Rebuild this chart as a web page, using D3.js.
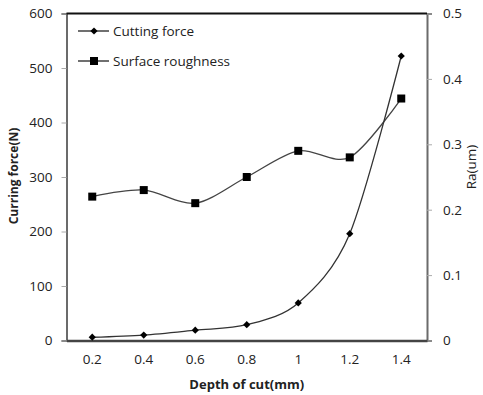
<!DOCTYPE html>
<html>
<head>
<meta charset="utf-8">
<script src="https://cdn.jsdelivr.net/npm/d3@7"></script>
<style>
  body { margin: 0; background: #fff; }
  text { font-family: "Open Sans", "DejaVu Sans", sans-serif; fill: #222; }
</style>
</head>
<body>
<div id="box"></div>
<script>
// data
var depths = ["0.2", "0.4", "0.6", "0.8", "1", "1.2", "1.4"];
var cuttingForce = [6, 10, 19, 29, 69, 196, 522];
var roughness = [0.22, 0.23, 0.21, 0.25, 0.29, 0.28, 0.37];
var forceTicks = [0, 100, 200, 300, 400, 500, 600];
var raTicks = [0, 0.1, 0.2, 0.3, 0.4, 0.5];

var width = 483, height = 395;
var plotLeft = 66.5, plotRight = 427, plotTop = 13.5, plotBottom = 340.5;

var svg = d3.select("#box")
    .append("svg")
    .attr("width", width)
    .attr("height", height);

var x = d3.scaleBand().domain(depths).range([plotLeft, plotRight]);
var yF = d3.scaleLinear().domain([0, 600]).range([plotBottom, plotTop]);
var yR = d3.scaleLinear().domain([0, 0.5]).range([plotBottom, plotTop]);

// left axis
var leftAxis = svg.append("g")
    .attr("transform", "translate(" + plotLeft + ",0)")
    .call(d3.axisLeft(yF).tickValues(forceTicks).tickSize(5).tickPadding(9));
leftAxis.select(".domain").attr("stroke", "#6b6b6b").attr("stroke-width", 2);
leftAxis.selectAll(".tick line").attr("stroke", "#aaa");
leftAxis.selectAll("text").attr("font-size", 13.5).attr("fill", "#222");

// right axis
var rightAxis = svg.append("g")
    .attr("transform", "translate(" + plotRight + ",0)")
    .call(d3.axisRight(yR).tickValues(raTicks).tickSize(5).tickPadding(11)
        .tickFormat(function(d) { return d === 0 ? "0" : d3.format(".1f")(d); }));
rightAxis.select(".domain").attr("stroke", "#6b6b6b").attr("stroke-width", 2);
rightAxis.selectAll(".tick line").attr("stroke", "#aaa");
rightAxis.selectAll("text").attr("font-size", 13.5).attr("fill", "#222");

// bottom axis
var bottomAxis = svg.append("g")
    .attr("transform", "translate(0," + plotBottom + ")")
    .call(d3.axisBottom(x).tickSize(0).tickPadding(14));
bottomAxis.select(".domain").attr("stroke", "#444").attr("stroke-width", 2.5);
bottomAxis.selectAll("text").attr("font-size", 13.5).attr("fill", "#222");

// top border
svg.append("line")
    .attr("x1", plotLeft).attr("x2", plotRight)
    .attr("y1", plotTop).attr("y2", plotTop)
    .attr("stroke", "#111").attr("stroke-width", 2);

var cx = function(d, i) { return x(depths[i]) + x.bandwidth() / 2; };

// smoothed lines
var lineF = d3.line()
    .x(function(d, i) { return cx(d, i); })
    .y(function(d) { return yF(d); })
    .curve(d3.curveCardinal.tension(0.1));
var lineR = d3.line()
    .x(function(d, i) { return cx(d, i); })
    .y(function(d) { return yR(d); })
    .curve(d3.curveCardinal.tension(0.1));

svg.append("path").datum(roughness)
    .attr("d", lineR)
    .attr("fill", "none").attr("stroke", "#444").attr("stroke-width", 1.3);
svg.append("path").datum(cuttingForce)
    .attr("d", lineF)
    .attr("fill", "none").attr("stroke", "#333").attr("stroke-width", 1.3);

// squat diamond marker (rotated square)
var diamond = d3.symbol().type(d3.symbolSquare).size(26);

svg.selectAll(".sq")
    .data(roughness)
    .enter()
    .append("rect")
    .attr("class", "sq")
    .attr("x", function(d, i) { return cx(d, i) - 4; })
    .attr("y", function(d) { return yR(d) - 4; })
    .attr("width", 8).attr("height", 8)
    .attr("fill", "#000");

svg.selectAll(".dm")
    .data(cuttingForce)
    .enter()
    .append("path")
    .attr("class", "dm")
    .attr("d", diamond)
    .attr("transform", function(d, i) { return "translate(" + cx(d, i) + "," + yF(d) + ") rotate(45)"; })
    .attr("fill", "#000");

// legend
var legend = [{ name: "Cutting force", y: 31, mark: "diamond" },
              { name: "Surface roughness", y: 61, mark: "square" }];
var lg = svg.selectAll(".lg")
    .data(legend)
    .enter()
    .append("g")
    .attr("class", "lg")
    .attr("transform", function(d) { return "translate(0," + d.y + ")"; });
lg.append("line")
    .attr("x1", 78).attr("x2", 109)
    .attr("stroke", "#222").attr("stroke-width", 1.3);
lg.each(function(d) {
    var g = d3.select(this);
    if (d.mark === "diamond") {
        g.append("path").attr("d", diamond).attr("transform", "translate(94,0) rotate(45)").attr("fill", "#000");
    } else {
        g.append("rect").attr("x", 90).attr("y", -4).attr("width", 8).attr("height", 8).attr("fill", "#000");
    }
});
lg.append("text")
    .attr("x", 113)
    .attr("dy", "0.35em")
    .attr("font-size", 13.5)
    .text(function(d) { return d.name; });

// axis titles
svg.append("text")
    .attr("x", (plotLeft + plotRight) / 2)
    .attr("y", 389)
    .attr("text-anchor", "middle")
    .attr("font-size", 13)
    .attr("font-weight", "bold")
    .text("Depth of cut(mm)");

svg.append("text")
    .attr("transform", "translate(14,176) rotate(-90)")
    .attr("text-anchor", "middle")
    .attr("dy", "0.35em")
    .attr("font-size", 12)
    .attr("font-weight", "bold")
    .text("Curring force(N)");

svg.append("text")
    .attr("transform", "translate(471,167) rotate(-90)")
    .attr("text-anchor", "middle")
    .attr("dy", "0.35em")
    .attr("font-size", 13.5)
    .text("Ra(um)");
</script>
</body>
</html>
